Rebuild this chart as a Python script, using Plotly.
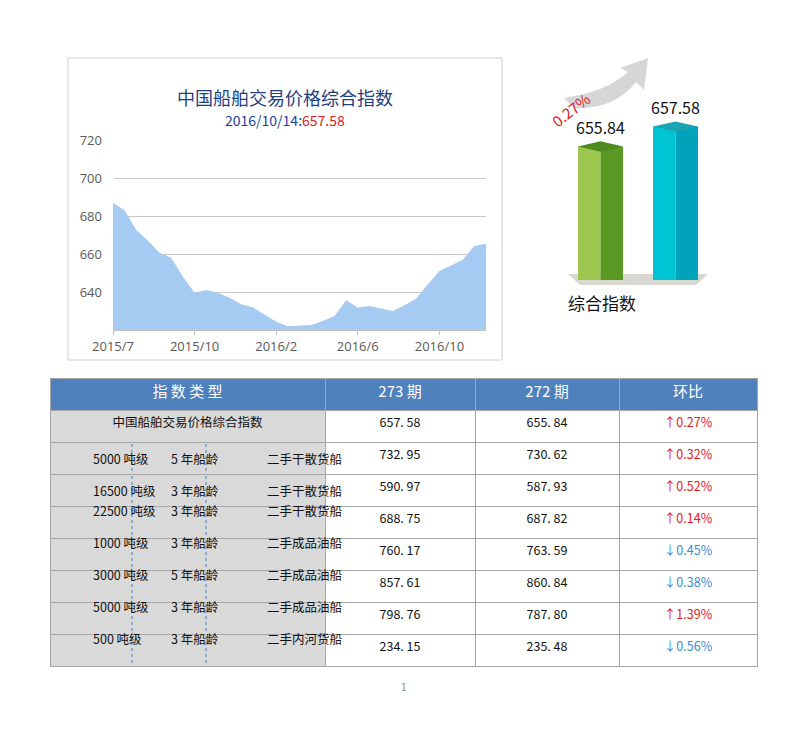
import plotly.graph_objects as go

W, H = 793, 731

# area chart data
index_vals = [687, 683, 672.6, 667, 660.7, 658, 648, 639.6, 641, 639.6, 637, 633.5, 632, 628,
              624.4, 622, 622.3, 622.6, 624.7, 627.4, 635.6, 631.8, 632.6, 631.4, 630, 633,
              636.5, 644, 651, 654, 657, 664.2, 665.4]
tick_pos = [0, 7, 14, 21, 28]
tick_text = ['2015/7', '2015/10', '2016/2', '2016/6', '2016/10']

# bar comparison
periods = ['272', '273']
period_vals = [655.84, 657.58]
change_pct = '0.27%'

# table
col_header = ['指 数 类 型', '273 期', '272 期', '环比']
tonnage = ['5000 吨级', '16500 吨级', '22500 吨级', '1000 吨级', '3000 吨级', '5000 吨级', '500 吨级']
ship_age = ['5 年船龄', '3 年船龄', '3 年船龄', '3 年船龄', '5 年船龄', '3 年船龄', '3 年船龄']
ship_type = ['二手干散货船', '二手干散货船', '二手干散货船', '二手成品油船', '二手成品油船', '二手成品油船', '二手内河货船']
cur_vals = ['657. 58', '732. 95', '590. 97', '688. 75', '760. 17', '857. 61', '798. 76', '234. 15']
prev_vals = ['655. 84', '730. 62', '587. 93', '687. 82', '763. 59', '860. 84', '787. 80', '235. 48']
mom = [0.27, 0.32, 0.52, 0.14, -0.45, -0.38, 1.39, -0.56]


def px(x, y):
    return x / W, 1 - y / H


fig = go.Figure()

fig.add_trace(go.Scatter(x=list(range(len(index_vals))), y=index_vals, mode='lines',
                         line=dict(width=0, color='#A6CBF3'), fill='tozeroy',
                         fillcolor='#A6CBF3', hoverinfo='skip', showlegend=False))

front = ['#9DC74F', '#00C4D4']
side = ['#5A9A24', '#00A3BA']
topc = ['#4E8A1E', '#1BA5B3']
for i, v in enumerate(period_vals):
    fig.add_trace(go.Bar(x=[i], y=[v - 644.2], base=644.2, width=0.3, offset=-0.3,
                         marker=dict(color=front[i], line_width=0), xaxis='x2', yaxis='y2',
                         showlegend=False))
    fig.add_trace(go.Bar(x=[i], y=[v - 644.2], base=644.2, width=0.3, offset=0,
                         marker=dict(color=side[i], line_width=0), xaxis='x2', yaxis='y2',
                         showlegend=False))
    fig.add_trace(go.Scatter(x=[i - 0.3, i, i + 0.3, i, i - 0.3], y=[v, v + 0.45, v, v - 0.45, v],
                             fill='toself', fillcolor=topc[i], mode='lines', line_width=0,
                             xaxis='x2', yaxis='y2', showlegend=False))
    fig.add_annotation(x=i, y=v + 0.5, xref='x2', yref='y2', text=f'{v:.2f}', showarrow=False,
                       yanchor='bottom', font=dict(size=16, color='#111'))

# table
n_rows = len(cur_vals)
first_col = ['中国船舶交易价格综合指数'] + [''] * (n_rows - 1)
mom_text = [('↑' if m > 0 else '↓') + f'{abs(m):.2f}%' for m in mom]
mom_color = ['#E02020' if m > 0 else '#3C8AD0' for m in mom]
fig.add_trace(go.Table(
    domain=dict(x=[42 / W, 749 / W], y=[0, 1 - 370 / H]),
    columnwidth=[275, 150, 144, 138],
    header=dict(values=col_header, fill_color='#4F81BD', height=32,
                font=dict(color='white', size=15, family='Noto Sans CJK SC'),
                line=dict(color='#A6A6A6', width=1)),
    cells=dict(values=[first_col, cur_vals, prev_vals, mom_text], height=32,
               fill_color=[['#D9D9D9'] * n_rows, ['white'] * n_rows, ['white'] * n_rows, ['white'] * n_rows],
               font=dict(color=['#111', '#111', '#111', mom_color], size=12.5, family='Noto Sans CJK SC'),
               line=dict(color='#A6A6A6', width=1))))

shapes = []
for r in range(len(tonnage)):
    y0 = 402 + 32 * (r + 1)
    yc = y0 + 16
    for xv, txt in [(83, tonnage[r]), (161, ship_age[r]), (257, ship_type[r])]:
        fig.add_annotation(x=xv / W, y=1 - yc / H, xref='paper', yref='paper', text=txt,
                           showarrow=False, font=dict(size=12.5, color='#111', family='Noto Sans CJK SC'))
    for xl in (124, 198):
        x0, ya = px(xl, y0 + 2)
        _, yb = px(xl, y0 + 30)
        shapes.append(dict(type='line', xref='paper', yref='paper', x0=x0, x1=x0, y0=ya, y1=yb,
                           line=dict(color='#4F81BD', width=1, dash='dot')))

# frame of area chart
x0, y0 = px(60, 50)
x1, y1 = px(494, 352)
shapes.append(dict(type='rect', xref='paper', yref='paper', x0=x0, y0=y1, x1=x1, y1=y0,
                   line=dict(color='#D0D0D0', width=1), layer='below'))
# floor shadow under bars
shapes.append(dict(type='path', xref='paper', yref='paper',
                   path='M {} {} L {} {} L {} {} L {} {} Z'.format(*px(560, 266), *px(700, 266), *px(688, 277), *px(572, 277)),
                   fillcolor='#D8D8D0', line_width=0, layer='below'))
# growth arrow (curved ribbon)
ribbon = ('M {} {} Q {} {} {} {} L {} {} L {} {} L {} {} L {} {} Q {} {} {} {} Z'.format(
    *px(556, 90), *px(598, 84), *px(620, 64), *px(612, 60), *px(640, 50), *px(636, 82),
    *px(628, 74), *px(606, 102), *px(566, 100)))
shapes.append(dict(type='path', xref='paper', yref='paper', path=ribbon,
                   fillcolor='#D6D6D6', line_width=0, layer='below'))

fig.add_annotation(x=277 / W, y=1 - 74 / H, xref='paper', yref='paper', showarrow=False,
                   text='中国船舶交易价格综合指数', font=dict(size=18, color='#1F3F7F'))
fig.add_annotation(x=277 / W, y=1 - 100 / H, xref='paper', yref='paper', showarrow=False,
                   text='2016/10/14:<span style="color:#E02020">657.58</span>',
                   font=dict(size=14, color='#1F3F9F'))
fig.add_annotation(x=589 / W, y=1 - 77 / H, xref='paper', yref='paper', showarrow=False,
                   text=change_pct, textangle=-38, font=dict(size=15, color='#E02020'))
fig.add_annotation(x=630 / W, y=1 - 294 / H, xref='paper', yref='paper', showarrow=False,
                   text='综合指数', font=dict(size=17, color='#111'))
fig.add_annotation(x=396 / W, y=1 - 688 / H, xref='paper', yref='paper', showarrow=False,
                   text='1', font=dict(size=10, color='#888'))

fig.update_layout(
    width=W, height=H, margin=dict(l=0, r=0, t=0, b=0, autoexpand=False),
    paper_bgcolor='white', plot_bgcolor='white', barmode='overlay', shapes=shapes,
    font=dict(family='Noto Sans CJK SC'),
    xaxis=dict(domain=[105 / W, 478 / W], range=[0, len(index_vals) - 1], tickvals=tick_pos,
               ticktext=tick_text, showgrid=False, showline=True, linecolor='#BFBFBF',
               ticks='outside', ticklen=4, tickcolor='#BFBFBF', automargin=False,
               tickfont=dict(size=13, color='#595959', family='Open Sans'), fixedrange=True),
    yaxis=dict(domain=[1 - 322 / H, 1 - 132 / H], range=[620, 720], tickvals=[640, 660, 680, 700, 720],
               showgrid=True, gridcolor='#C8C8C8', zeroline=False, showline=False, automargin=False,
               tickfont=dict(size=13, color='#595959', family='Open Sans'), ticklabelstandoff=10),
    xaxis2=dict(domain=[555 / W, 705 / W], range=[-0.5, 1.5], visible=False, anchor='y2', automargin=False),
    yaxis2=dict(domain=[1 - 272 / H, 1 - 100 / H], range=[644.2, 659.2], visible=False, anchor='x2', automargin=False),
)

fig.write_html("out.html")
